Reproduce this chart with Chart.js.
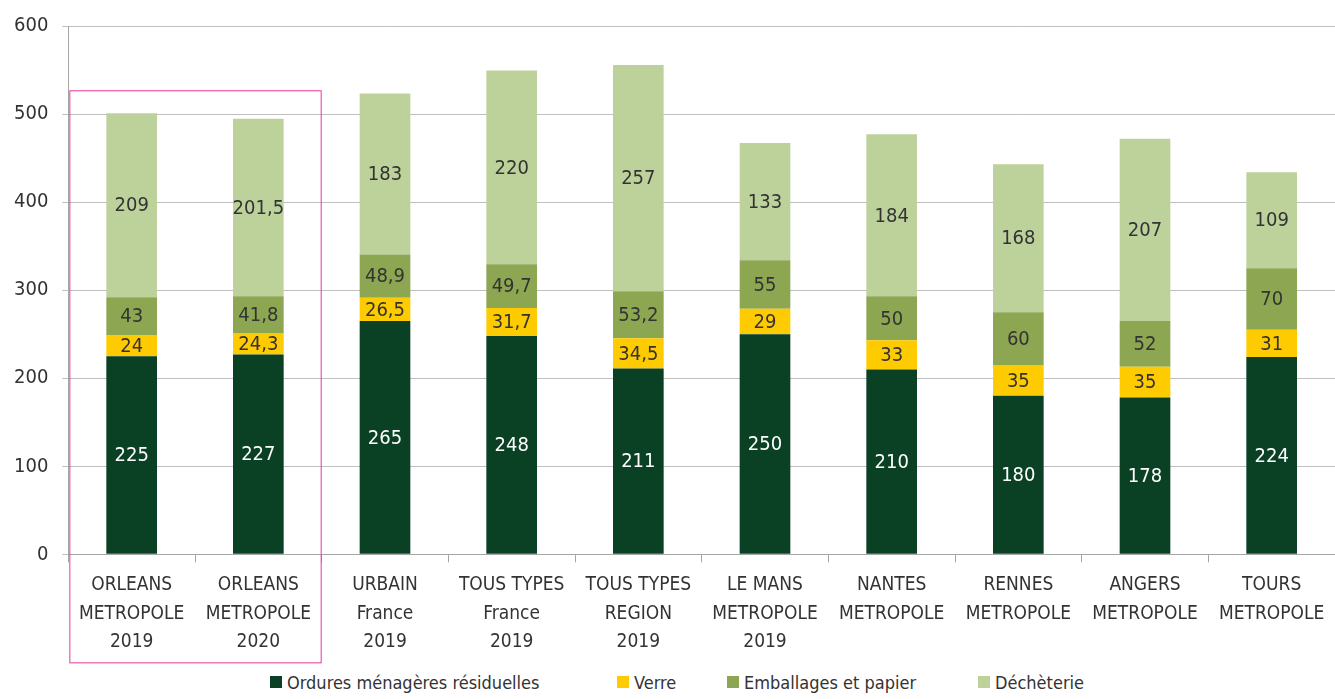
<!DOCTYPE html>
<html>
<head>
<meta charset="utf-8">
<script src="https://cdn.jsdelivr.net/npm/chart.js@4/dist/chart.umd.min.js"></script>
<style>
  html, body { margin: 0; padding: 0; background: #fff; }
  #wrap { width: 1335px; height: 665px; position: relative; }
  #legend { display: flex; padding-left: 270px; height: 34px; align-items: center;
            font-family: 'DejaVu Sans Condensed', sans-serif; font-size: 18px; color: #333; }
  #legend .item { display: flex; align-items: center; white-space: nowrap; }
  #legend .sw { width: 12px; height: 12px; margin-right: 5px; }
</style>
</head>
<body>
<div id="wrap"><canvas id="chart"></canvas></div>
<div id="legend"></div>
<script>
const categories = [
  ['ORLEANS', 'METROPOLE', '2019'],
  ['ORLEANS', 'METROPOLE', '2020'],
  ['URBAIN', 'France', '2019'],
  ['TOUS TYPES', 'France', '2019'],
  ['TOUS TYPES', 'REGION', '2019'],
  ['LE MANS', 'METROPOLE', '2019'],
  ['NANTES', 'METROPOLE'],
  ['RENNES', 'METROPOLE'],
  ['ANGERS', 'METROPOLE'],
  ['TOURS', 'METROPOLE']
];
const ordures = [225, 227, 265, 248, 211, 250, 210, 180, 178, 224];
const verre = [24, 24.3, 26.5, 31.7, 34.5, 29, 33, 35, 35, 31];
const emballages = [43, 41.8, 48.9, 49.7, 53.2, 55, 50, 60, 52, 70];
const decheterie = [209, 201.5, 183, 220, 257, 133, 184, 168, 207, 109];
const seriesNames = ['Ordures ménagères résiduelles', 'Verre', 'Emballages et papier', 'Déchèterie'];
const yTicks = [0, 100, 200, 300, 400, 500, 600];

const FONT = "'DejaVu Sans Condensed', sans-serif";
const colors = ['#0a4124', '#fecb00', '#8ca651', '#bdd29b'];
const labelColors = ['#ffffff', '#333333', '#333333', '#333333'];
const legendSlots = [347, 110, 251, 200];

// valeurs dans les barres
const barLabels = {
  id: 'barLabels',
  afterDatasetsDraw(chart) {
    const ctx = chart.ctx;
    ctx.save();
    ctx.font = '20px ' + FONT;
    ctx.textAlign = 'center';
    ctx.textBaseline = 'middle';
    chart.data.datasets.forEach((ds, i) => {
      chart.getDatasetMeta(i).data.forEach((bar, j) => {
        const mid = (bar.y + bar.base) / 2;
        ctx.fillStyle = labelColors[i];
        ctx.fillText(String(ds.data[j]).replace('.', ','), bar.x, mid + 1);
      });
    });
    ctx.restore();
  }
};

// cadre rose autour d'Orléans Métropole
const highlight = {
  id: 'highlight',
  afterDraw(chart) {
    const x = chart.scales.x, y = chart.scales.y;
    const half = (x.getPixelForValue(1) - x.getPixelForValue(0)) / 2;
    const left = x.getPixelForValue(0) - half + 1;
    const right = x.getPixelForValue(1) + half - 1;
    const top = y.getPixelForValue(527);
    const bottom = chart.chartArea.bottom + 108;
    const ctx = chart.ctx;
    ctx.save();
    ctx.strokeStyle = '#e8389c';
    ctx.lineWidth = 1;
    ctx.strokeRect(left + 0.5, top + 0.5, right - left, bottom - top);
    ctx.restore();
  }
};

const chart = new Chart(document.getElementById('chart'), {
  type: 'bar',
  data: {
    labels: categories,
    datasets: [ordures, verre, emballages, decheterie].map((d, i) => ({
      label: seriesNames[i],
      data: d,
      backgroundColor: colors[i],
      borderWidth: 0,
      categoryPercentage: 0.8,
      barPercentage: 0.5
    }))
  },
  options: {
    responsive: true,
    maintainAspectRatio: false,
    animation: false,
    layout: { padding: { top: 21, right: 0, left: 0, bottom: 0 } },
    plugins: {
      tooltip: { enabled: false },
      legend: { display: false }
    },
    scales: {
      x: {
        stacked: true,
        grid: { display: true, drawOnChartArea: false, offset: true, color: '#a6a6a6', tickLength: 8 },
        border: { color: '#a6a6a6' },
        ticks: {
          font: { family: FONT, size: 19, lineHeight: 1.52 },
          color: '#333',
          maxRotation: 0,
          padding: 8
        }
      },
      y: {
        stacked: true,
        min: 0,
        max: 600,
        afterBuildTicks(axis) { axis.ticks = yTicks.map(v => ({ value: v })); },
        grid: { color: '#bfbfbf', tickLength: 6 },
        border: { color: '#a6a6a6' },
        ticks: {
          font: { family: FONT, size: 20 },
          color: '#333',
          padding: 14
        }
      }
    }
  },
  plugins: [barLabels, highlight]
});

// légende en bas
document.getElementById('legend').innerHTML = seriesNames.map((n, i) => `
  <div class="item" style="width:${legendSlots[i]}px">
    <span class="sw" style="background:${colors[i]}"></span>${n}
  </div>`).join('');
</script>
</body>
</html>
